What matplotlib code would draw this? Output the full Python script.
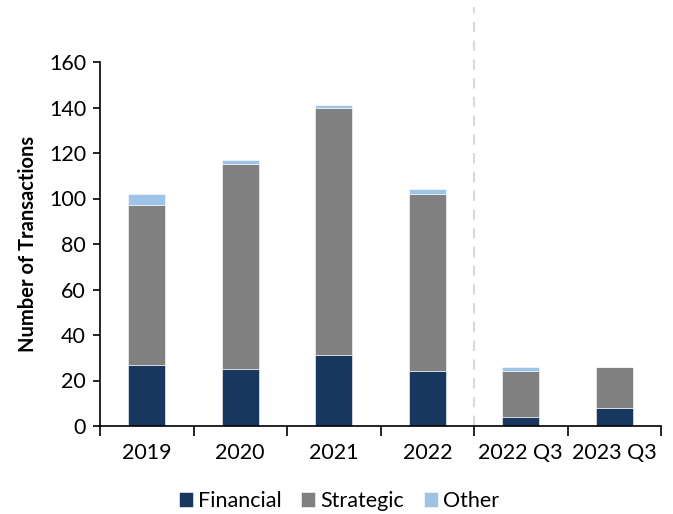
import matplotlib
matplotlib.use("Agg")
import matplotlib.pyplot as plt
import numpy as np

categories = ["2019", "2020", "2021", "2022", "2022 Q3", "2023 Q3"]
financial = [27, 25, 31, 24, 4, 8]
strategic = [70, 90, 109, 78, 20, 18]
other = [5, 2, 1, 2, 2, 0]

plt.rcParams['font.family'] = ['Lato', 'DejaVu Sans']

fig = plt.figure(figsize=(6.73, 5.14), dpi=100)
ax = fig.add_axes([100/673, 88/514, 561/673, 364/514])

x = np.arange(len(categories))
w = 0.4
fin = np.array(financial)
stg = np.array(strategic)
oth = np.array(other)
ax.bar(x, fin, w, color="#17375E", label="Financial", edgecolor="white", linewidth=0.4)
ax.bar(x, stg, w, bottom=fin, color="#808080", label="Strategic", edgecolor="white", linewidth=0.4)
ax.bar(x, oth, w, bottom=fin + stg, color="#9DC3E6", label="Other", edgecolor="white", linewidth=0.4)

ax.set_xlim(-0.5, len(categories) - 0.5)
ax.set_ylim(0, 160)
ax.set_yticks(range(0, 161, 20))
ax.set_xticks(x)
ax.set_xticklabels(categories)
ax.set_xticks(np.arange(-0.5, len(categories), 1), minor=True)
ax.tick_params(axis='x', which='major', length=0, pad=12, labelsize=15.5)
ax.tick_params(axis='x', which='minor', length=7, width=1.2, direction='out')
ax.tick_params(axis='y', length=5, width=1.2, direction='out', labelsize=15.5, pad=5)

for s in ["top", "right"]:
    ax.spines[s].set_visible(False)
ax.spines["left"].set_linewidth(1.2)
ax.spines["bottom"].set_linewidth(1.2)

ax.plot([3.5, 3.5], [0, 184], linestyle=(0, (5, 4)), color="#D9D9D9",
        linewidth=1.5, clip_on=False, zorder=0)

ax.set_ylabel("Number of Transactions", fontsize=14.5, fontweight="bold", labelpad=8)

fig.legend(loc="center", bbox_to_anchor=(339/673, 1 - 501/514), ncol=3, frameon=False,
           fontsize=15.5, handlelength=0.65, handleheight=0.65, handletextpad=0.25,
           columnspacing=0.9)

fig.savefig("out.png", dpi=100)
